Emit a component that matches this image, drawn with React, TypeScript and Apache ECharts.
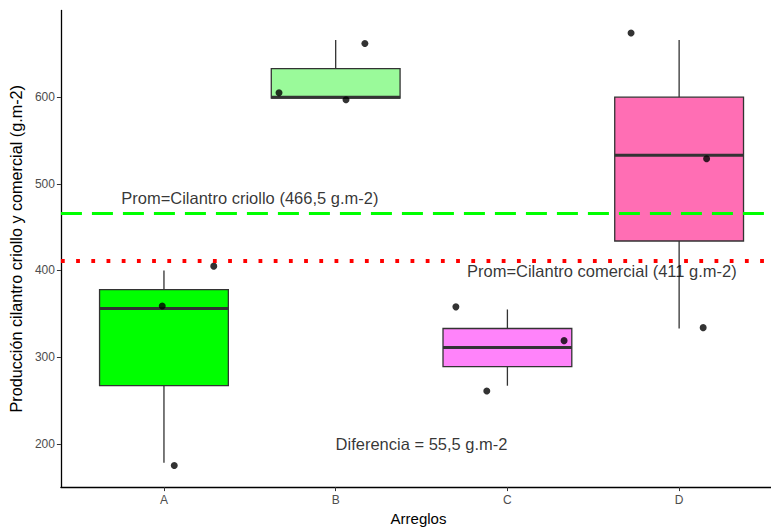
import React, { useEffect, useRef } from 'react';
import * as echarts from 'echarts';

const categories = ['A', 'B', 'C', 'D'];
const boxMin = [178, 599, 267, 333];
const boxQ1 = [267, 599, 289, 434];
const boxMedian = [356, 600, 311, 533];
const boxQ3 = [378, 633, 333, 600];
const boxMax = [400, 666, 355, 666];
const boxColors = ['#00FF00', '#9AFA9A', '#FF83FA', '#FF6EB4'];

const pointX = [1.29, 0.99, 1.06, 2.17, 1.67, 2.06, 2.7, 3.33, 2.88, 3.72, 4.16, 4.14];
const pointY = [405, 359, 175, 662, 605, 597, 358, 319, 261, 674, 529, 334];

const meanCriollo = 466.5;
const meanComercial = 411;
const yTicks = [200, 300, 400, 500, 600];

const annotationX = [1.5, 3.55, 2.5];
const annotationY = [484, 399, 200];
const annotationText = [
  'Prom=Cilantro criollo (466,5 g.m-2)',
  'Prom=Cilantro comercial (411 g.m-2)',
  'Diferencia = 55,5 g.m-2',
];

const FONT = '"Liberation Sans", Arial, sans-serif';

export default function App() {
  const ref = useRef<HTMLDivElement>(null);
  useEffect(() => {
    if (!ref.current) return;
    const chart = echarts.init(ref.current, undefined, { renderer: 'svg' });
    const boxData = categories.map((_, i) => [i + 1, boxMin[i], boxQ1[i], boxMedian[i], boxQ3[i], boxMax[i], i]);
    const pts = pointX.map((x, i) => [x, pointY[i]]);
    const ann = annotationX.map((x, i) => ({ value: [x, annotationY[i]], name: annotationText[i] }));
    chart.setOption({
      animation: false,
      textStyle: { fontFamily: FONT },
      grid: { left: 60, top: 10.5, right: 0, height: 483 },
      xAxis: {
        type: 'value',
        min: 0.4,
        max: 4.535,
        name: 'Arreglos',
        nameLocation: 'middle',
        nameGap: 20,
        nameTextStyle: { color: '#000', fontSize: 15, fontFamily: FONT, padding: [0, 0, 0, 5] },
        axisLine: { show: true, lineStyle: { color: '#000', width: 1.3 } },
        axisTick: { show: true, length: 4, lineStyle: { color: '#333' }, customValues: [1, 2, 3, 4] },
        axisLabel: {
          color: '#4D4D4D',
          fontSize: 12,
          margin: 7,
          customValues: [1, 2, 3, 4],
          formatter: (v: number) => categories[Math.round(v) - 1] ?? '',
        },
        splitLine: { show: false },
      },
      yAxis: {
        type: 'value',
        min: 150,
        max: 700,
        name: 'Producción cilantro criollo y comercial (g.m-2)',
        nameLocation: 'middle',
        nameGap: 35,
        nameTextStyle: { color: '#000', fontSize: 16.2, fontFamily: FONT },
        axisLine: { show: true, lineStyle: { color: '#000', width: 1.3 } },
        axisTick: { show: true, length: 4, lineStyle: { color: '#333' }, customValues: yTicks },
        axisLabel: { color: '#4D4D4D', fontSize: 12, margin: 6, customValues: yTicks },
        splitLine: { show: false },
      },
      series: [
        {
          type: 'custom',
          data: boxData,
          encode: { x: 0, y: [1, 2, 3, 4, 5] },
          z: 2,
          renderItem: (params: any, api: any) => {
            const x = api.value(0);
            const half = api.size([0.75, 0])[0] / 2;
            const pMin = api.coord([x, api.value(1)]);
            const cx = pMin[0];
            const yMin = pMin[1];
            const yQ1 = api.coord([x, api.value(2)])[1];
            const yMed = api.coord([x, api.value(3)])[1];
            const yQ3 = api.coord([x, api.value(4)])[1];
            const yMax = api.coord([x, api.value(5)])[1];
            const color = boxColors[api.value(6)];
            const stroke = '#333333';
            return {
              type: 'group',
              children: [
                { type: 'line', shape: { x1: cx, y1: yQ3, x2: cx, y2: yMax }, style: { stroke, lineWidth: 1.3 } },
                { type: 'line', shape: { x1: cx, y1: yMin, x2: cx, y2: yQ1 }, style: { stroke, lineWidth: 1.3 } },
                {
                  type: 'rect',
                  shape: { x: cx - half, y: yQ3, width: 2 * half, height: yQ1 - yQ3 },
                  style: { fill: color, stroke, lineWidth: 1.3 },
                },
                { type: 'line', shape: { x1: cx - half, y1: yMed, x2: cx + half, y2: yMed }, style: { stroke, lineWidth: 3 } },
              ],
            };
          },
        },
        {
          type: 'scatter',
          data: pts,
          symbol: 'circle',
          symbolSize: 7,
          itemStyle: { color: '#000' },
          z: 3,
          markLine: {
            silent: true,
            symbol: 'none',
            label: { show: false },
            data: [
              { yAxis: meanCriollo, lineStyle: { color: '#00FF00', width: 3, type: [21, 10], cap: 'butt' } },
              { yAxis: meanComercial, lineStyle: { color: '#FF0000', width: 3.8, type: [3.8, 11.4], cap: 'butt' } },
            ],
          },
        },
        {
          type: 'scatter',
          data: ann,
          symbol: 'circle',
          symbolSize: 1,
          itemStyle: { color: 'rgba(0,0,0,0)' },
          z: 5,
          label: {
            show: true,
            position: 'inside',
            formatter: (p: any) => p.name,
            color: '#000',
            fontSize: 16.5,
            fontFamily: FONT,
          },
        },
      ],
    });
    return () => chart.dispose();
  }, []);
  return <div ref={ref} style={{ position: 'absolute', left: 0, top: 0, width: 771, height: 531 }} />;
}
